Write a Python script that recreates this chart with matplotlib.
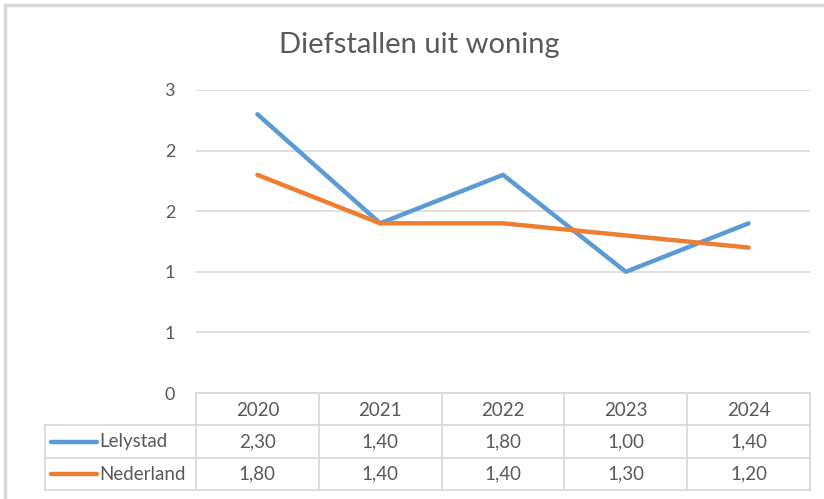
import matplotlib
matplotlib.use("Agg")
import matplotlib.pyplot as plt
from matplotlib.lines import Line2D
from matplotlib.patches import Rectangle

years = ["2020", "2021", "2022", "2023", "2024"]
lelystad = [2.30, 1.40, 1.80, 1.00, 1.40]
nederland = [1.80, 1.40, 1.40, 1.30, 1.20]
series_names = ["Lelystad", "Nederland"]
title = "Diefstallen uit woning"
yticks = [0, 0.5, 1.0, 1.5, 2.0, 2.5]

blue = "#5B9BD5"
orange = "#ED7D31"
txt = "#595959"
grid = "#D9D9D9"

plt.rcParams['font.family'] = ['Lato', 'DejaVu Sans']

W, H = 824, 499
fig = plt.figure(figsize=(W/100, H/100), dpi=100)

def fx(px): return px / W
def fy(py): return 1 - py / H

# chart border
fig.add_artist(Rectangle((fx(5), fy(520)), fx(900), fy(5) - fy(520), transform=fig.transFigure,
                         fill=False, edgecolor=grid, linewidth=2.5))

L, R, T, B = 196, 810, 90, 393
ax = fig.add_axes([fx(L), fy(B), fx(R) - fx(L), fy(T) - fy(B)])
x = range(len(years))
ax.plot(x, lelystad, color=blue, lw=3.2, solid_capstyle='round', zorder=3)
ax.plot(x, nederland, color=orange, lw=3.2, solid_capstyle='round', zorder=3)
ax.set_xlim(-0.5, len(years) - 0.5)
ax.set_ylim(0, 2.5)
ax.set_yticks(yticks)
ax.set_yticklabels([str(int(v + 0.5)) for v in yticks])
ax.tick_params(axis='y', length=0, pad=15, labelsize=13, labelcolor=txt)
ax.set_xticks([])
ax.grid(axis='y', color=grid, lw=1.2)
ax.set_axisbelow(True)
for s in ax.spines.values():
    s.set_visible(False)

fig.text(fx(419), fy(45), title, ha='center', va='center', fontsize=21, color=txt, fontweight='normal')

# data table
rows_y = [393, 425, 458, 490]
left_tab = 45
colw = (R - L) / len(years)
lk = dict(color=grid, lw=1.3, transform=fig.transFigure)
fig.add_artist(Line2D([fx(L), fx(R)], [fy(rows_y[0])] * 2, **lk))
for yy in rows_y[1:]:
    fig.add_artist(Line2D([fx(left_tab), fx(R)], [fy(yy)] * 2, **lk))
fig.add_artist(Line2D([fx(left_tab)] * 2, [fy(rows_y[1]), fy(rows_y[3])], **lk))
for i in range(len(years) + 1):
    xx = L + i * colw
    fig.add_artist(Line2D([fx(xx)] * 2, [fy(rows_y[0]), fy(rows_y[3])], **lk))

fs = 13.5
for i, yr in enumerate(years):
    fig.text(fx(L + (i + 0.5) * colw), fy((rows_y[0] + rows_y[1]) / 2 + 1), yr,
             ha='center', va='center', fontsize=fs, color=txt)

for r, (name, vals, col) in enumerate([(series_names[0], lelystad, blue),
                                        (series_names[1], nederland, orange)]):
    cy = (rows_y[r + 1] + rows_y[r + 2]) / 2
    fig.add_artist(Line2D([fx(51), fx(97)], [fy(cy)] * 2, color=col, lw=3.2,
                          solid_capstyle='round', transform=fig.transFigure))
    fig.text(fx(99), fy(cy), name, ha='left', va='center', fontsize=fs, color=txt)
    for i, v in enumerate(vals):
        fig.text(fx(L + (i + 0.5) * colw), fy(cy), f"{v:.2f}".replace('.', ','),
                 ha='center', va='center', fontsize=fs, color=txt)

fig.savefig("out.png", dpi=100, facecolor='white')
